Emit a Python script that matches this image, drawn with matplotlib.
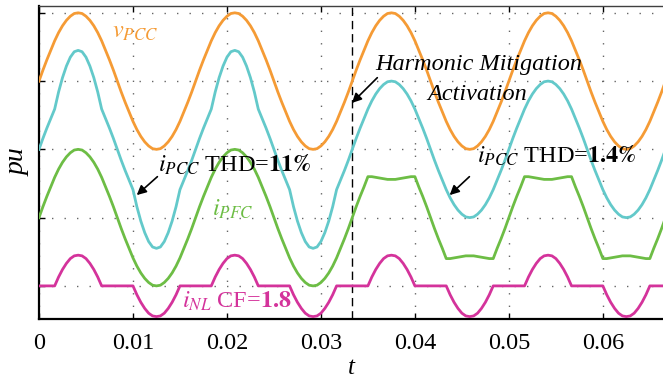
import numpy as np
import matplotlib
matplotlib.use("Agg")
import matplotlib.pyplot as plt

plt.rcParams["font.family"] = ["Liberation Serif", "DejaVu Serif"]
plt.rcParams["mathtext.fontset"] = "stix"

# ------------------------------------------------------------
# Waveforms, one 60 Hz cycle each, 40 samples per cycle (pu)
# values
# ------------------------------------------------------------
F_LINE = 60.0
N_CYC = 40
T_ACT = 0.0333          # harmonic mitigation switched on
T_MAX = 0.0664

V_PCC = [0.00, 0.16, 0.31, 0.45, 0.59, 0.71, 0.81, 0.89, 0.95, 0.99,
         1.00, 0.99, 0.95, 0.89, 0.81, 0.71, 0.59, 0.45, 0.31, 0.16,
         0.00, -0.16, -0.31, -0.45, -0.59, -0.71, -0.81, -0.89, -0.95, -0.99,
         -1.00, -0.99, -0.95, -0.89, -0.81, -0.71, -0.59, -0.45, -0.31, -0.16]

I_NL = [0.00, 0.00, 0.00, 0.00, 0.00, 0.13, 0.24, 0.33, 0.40, 0.44,
        0.45, 0.44, 0.40, 0.33, 0.24, 0.13, 0.00, 0.00, 0.00, 0.00,
        0.00, 0.00, 0.00, 0.00, 0.00, -0.13, -0.24, -0.33, -0.40, -0.44,
        -0.45, -0.44, -0.40, -0.33, -0.24, -0.13, 0.00, 0.00, 0.00, 0.00]

# before activation
I_PFC_OFF = [0.00, 0.16, 0.31, 0.45, 0.59, 0.71, 0.81, 0.89, 0.95, 0.99,
             1.00, 0.99, 0.95, 0.89, 0.81, 0.71, 0.59, 0.45, 0.31, 0.16,
             0.00, -0.16, -0.31, -0.45, -0.59, -0.71, -0.81, -0.89, -0.95, -0.99,
             -1.00, -0.99, -0.95, -0.89, -0.81, -0.71, -0.59, -0.45, -0.31, -0.16]
I_PCC_OFF = [0.00, 0.16, 0.31, 0.45, 0.59, 0.84, 1.05, 1.22, 1.35, 1.43,
             1.45, 1.43, 1.35, 1.22, 1.05, 0.84, 0.59, 0.45, 0.31, 0.16,
             0.00, -0.16, -0.31, -0.45, -0.59, -0.84, -1.05, -1.22, -1.35, -1.43,
             -1.45, -1.43, -1.35, -1.22, -1.05, -0.84, -0.59, -0.45, -0.31, -0.16]

# after activation
I_PFC_ON = [0.00, 0.16, 0.31, 0.45, 0.60, 0.60, 0.59, 0.58, 0.57, 0.56,
            0.56, 0.56, 0.57, 0.58, 0.59, 0.60, 0.60, 0.45, 0.31, 0.16,
            0.00, -0.16, -0.31, -0.45, -0.60, -0.60, -0.59, -0.58, -0.57, -0.56,
            -0.56, -0.56, -0.57, -0.58, -0.59, -0.60, -0.60, -0.45, -0.31, -0.16]
I_PCC_ON = [0.00, 0.16, 0.31, 0.45, 0.59, 0.71, 0.81, 0.89, 0.95, 0.99,
            1.00, 0.99, 0.95, 0.89, 0.81, 0.71, 0.59, 0.45, 0.31, 0.16,
            0.00, -0.16, -0.31, -0.45, -0.59, -0.71, -0.81, -0.89, -0.95, -0.99,
            -1.00, -0.99, -0.95, -0.89, -0.81, -0.71, -0.59, -0.45, -0.31, -0.16]

X_TICKS = [0, 0.01, 0.02, 0.03, 0.04, 0.05, 0.06]
X_TICK_LABELS = ["0", "0.01", "0.02", "0.03", "0.04", "0.05", "0.06"]

# display offsets (traces are stacked)
OFFSET = {"v": 3.0, "pcc": 2.0, "pfc": 1.0, "nl": 0.0}

C_V = "#F59B35"
C_PCC = "#63C9CA"
C_PFC = "#6DBD45"
C_NL = "#D4339B"


def build(before, after):
    """two cycles before activation, two after, closed at the end"""
    y = np.concatenate([np.tile(before, 2), np.tile(after, 2), [after[0]]])
    return y


n = 4 * N_CYC + 1
t = np.arange(n) / (F_LINE * N_CYC)

v = build(V_PCC, V_PCC)
i_pcc = build(I_PCC_OFF, I_PCC_ON)
i_pfc = build(I_PFC_OFF, I_PFC_ON)
i_nl = build(I_NL, I_NL)

fig = plt.figure(figsize=(6.63, 3.79), dpi=100)
ax = fig.add_axes([39 / 663, 60 / 379, 1 - 39 / 663, 313 / 379])

lw = 2.0
ax.plot(t, v + OFFSET["v"], color=C_V, lw=lw, zorder=3)
ax.plot(t, i_pcc + OFFSET["pcc"], color=C_PCC, lw=lw, zorder=3)
ax.plot(t, i_pfc + OFFSET["pfc"], color=C_PFC, lw=lw, zorder=3)
ax.plot(t, i_nl + OFFSET["nl"], color=C_NL, lw=lw, zorder=3)

ax.axvline(T_ACT, color="k", lw=1.0, ls=(0, (6, 3.5)), zorder=2)

ax.set_xlim(0, T_MAX)
ax.set_ylim(-0.485, 4.1)
ax.set_xticks(X_TICKS)
ax.set_xticklabels(X_TICK_LABELS)
ax.set_yticks([0, 1, 2, 3, 4])
ax.set_yticklabels([])
ax.grid(True, ls=(0, (1, 8)), color="0.4", lw=1.0)

ax.tick_params(direction="in", length=4, width=1, top=True, right=False,
               labelsize=17.5, pad=10, colors="k")
for s in ["left", "bottom"]:
    ax.spines[s].set_linewidth(1.6)
ax.spines["top"].set_linewidth(1.0)
ax.spines["top"].set_color("0.25")
ax.spines["right"].set_visible(False)

ax.set_xlabel("t", fontsize=18, fontstyle="italic", labelpad=2)
ax.set_ylabel("pu", fontsize=20, fontstyle="italic")
ax.yaxis.set_label_coords(-0.014, 0.5)

# labels
fs = 17.5
ax.text(0.0078, 3.63, r"$v_{PCC}$", color=C_V, fontsize=fs)
ax.text(0.0184, 1.03, r"$i_{PFC}$", color=C_PFC, fontsize=fs)
ax.text(0.0127, 1.67, r"$i_{PCC}$ THD=$\mathbf{11\%}$", color="k", fontsize=fs)
ax.text(0.0466, 1.80, r"$i_{PCC}$ THD=$\mathbf{1.4\%}$", color="k", fontsize=fs)
ax.text(0.0152, -0.32, r"$i_{NL}$ CF=$\mathbf{1.8}$", color=C_NL, fontsize=fs)

ax.text(0.0468, 3.165, "Harmonic Mitigation", fontsize=fs, fontstyle="italic",
        ha="center")
ax.text(0.0466, 2.725, "Activation", fontsize=fs, fontstyle="italic",
        ha="center")

arrow = dict(arrowstyle="-|>", color="k", lw=1.2, mutation_scale=14,
             shrinkA=0, shrinkB=0)
ax.annotate("", xy=(0.0333, 2.68), xytext=(0.0360, 3.05), arrowprops=arrow)
ax.annotate("", xy=(0.0104, 1.33), xytext=(0.0126, 1.60), arrowprops=arrow)
ax.annotate("", xy=(0.0437, 1.33), xytext=(0.0458, 1.60), arrowprops=arrow)

fig.savefig("out.png", dpi=100)
